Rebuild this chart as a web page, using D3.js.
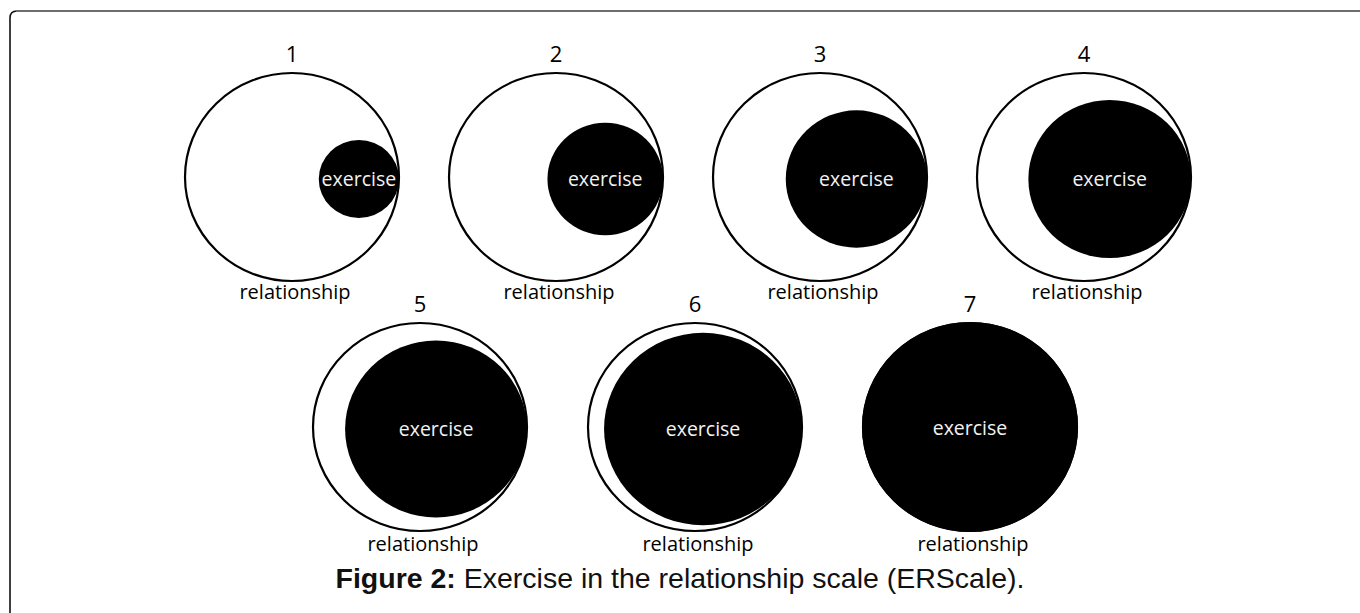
<!DOCTYPE html>
<html>
<head>
<meta charset="utf-8">
<script src="https://cdn.jsdelivr.net/npm/d3@7"></script>
<style>
  body { margin: 0; background: #fff; }
  svg { display: block; }
</style>
</head>
<body>
<svg width="1360" height="613"></svg>
<script>
// scale levels and how much of the "relationship" circle is taken by "exercise"
var levels = [1, 2, 3, 4, 5, 6, 7];
var exerciseShare = [0.375, 0.54, 0.66, 0.76, 0.85, 0.925, 1.0];
var rowOf = [0, 0, 0, 0, 1, 1, 1];
var outerLabel = "relationship";
var innerLabel = "exercise";
var caption = ["Figure 2:", " Exercise in the relationship scale (ERScale)."];

var svg = d3.select("svg"),
    width = +svg.attr("width"),
    height = +svg.attr("height");

var labelFont = "'Open Sans', 'Noto Sans', sans-serif";

// page frame (rounded top-left corner)
svg.append("path")
  .attr("d", "M10," + height + "V18Q10,11 17,11")
  .attr("fill", "none").attr("stroke", "#111").attr("stroke-width", 1.6);
svg.append("path")
  .attr("d", "M16,11H" + width)
  .attr("fill", "none").attr("stroke", "#6e6e6e").attr("stroke-width", 2);

var data = levels.map(function (l, i) {
  return { level: l, share: exerciseShare[i], row: rowOf[i] };
});

var rows = [data.filter(d => d.row === 0), data.filter(d => d.row === 1)];

var xRow = [
  d3.scalePoint().domain(rows[0].map(d => d.level)).range([292, 1084]),
  d3.scalePoint().domain(rows[1].map(d => d.level)).range([420, 970])
];
var yRow = d3.scaleOrdinal().domain([0, 1]).range([177, 427]);

var RX = 107, RY = 104;
var r = d3.scaleLinear().domain([0, 1]).range([0, 1]);

var g = svg.append("g").selectAll("g")
  .data(data)
  .join("g")
  .attr("transform", d => "translate(" + xRow[d.row](d.level) + "," + yRow(d.row) + ")");

// relationship circle
g.append("ellipse")
  .attr("rx", RX).attr("ry", RY)
  .attr("fill", "#fff")
  .attr("stroke", "#000")
  .attr("stroke-width", 2.2);

// exercise circle, tangent on the right side
g.append("ellipse")
  .attr("cx", d => RX - RX * r(d.share))
  .attr("cy", d => d.share < 1 ? 2 : 0)
  .attr("rx", d => RX * r(d.share) + (d.share < 1 ? 0 : 1))
  .attr("ry", d => RY * r(d.share) + (d.share < 1 ? 0 : 1))
  .attr("fill", "#000");

g.append("text")
  .attr("x", d => RX - RX * r(d.share))
  .attr("y", d => d.share < 1 ? 9 : 8)
  .attr("text-anchor", "middle")
  .attr("fill", "#f2f2f2")
  .style("font-family", labelFont)
  .style("font-size", "19.5px")
  .text(innerLabel);

g.append("text")
  .attr("x", 0)
  .attr("y", -RY - 11)
  .attr("text-anchor", "middle")
  .attr("fill", "#000")
  .style("font-family", labelFont)
  .style("font-size", "22px")
  .text(d => d.level);

g.append("text")
  .attr("x", 3)
  .attr("y", d => d.row === 0 ? RY + 18 : RY + 20)
  .attr("text-anchor", "middle")
  .attr("fill", "#000")
  .style("font-family", labelFont)
  .style("font-size", "20px")
  .text(outerLabel);

// caption
var cap = svg.append("text")
  .attr("x", width / 2)
  .attr("y", 588)
  .attr("text-anchor", "middle")
  .style("font-family", "'Liberation Sans', Arial, sans-serif")
  .style("font-size", "28.5px")
  .attr("fill", "#111");
cap.append("tspan").style("font-weight", "bold").text(caption[0]);
cap.append("tspan").text(caption[1]);
</script>
</body>
</html>
